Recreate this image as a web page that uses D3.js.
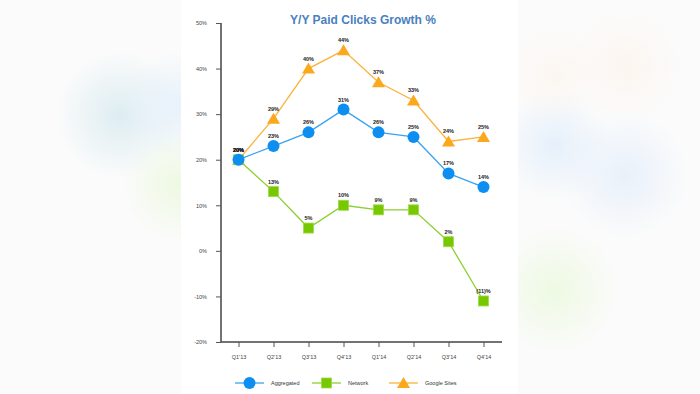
<!DOCTYPE html>
<html>
<head>
<meta charset="utf-8">
<script src="https://cdn.jsdelivr.net/npm/d3@7"></script>
<style>
  html, body { margin: 0; padding: 0; overflow: hidden; }
  body { width: 700px; height: 394px; font-family: "Liberation Sans", Arial, sans-serif; }
</style>
</head>
<body>
<svg id="chart" width="700" height="394"></svg>
<script>
// quarters and Y/Y growth (%) per series
const quarters = ["Q1'13", "Q2'13", "Q3'13", "Q4'13", "Q1'14", "Q2'14", "Q3'14", "Q4'14"];
const aggregated = [20, 23, 26, 31, 26, 25, 17, 14];
const network = [20, 13, 5, 10, 9, 9, 2, -11];
const googleSites = [20, 29, 40, 44, 37, 33, 24, 25];
const yTicks = [-20, -10, 0, 10, 20, 30, 40, 50];

const series = [
    { name: 'Aggregated', values: aggregated, line: '#39a3f2', fill: '#0d8ff2', shape: 'circle' },
    { name: 'Network', values: network, line: '#8ccf2e', fill: '#77c800', shape: 'square' },
    { name: 'Google Sites', values: googleSites, line: '#fbb23a', fill: '#fca81c', shape: 'triangle' }
];

const svg = d3.select('#chart');

// blurred backdrop behind the white panel
const defs = svg.append('defs');
const blobs = [
    { id: 'b1', x: 120, y: 115, r: 40, c: '#d6e9ef' },
    { id: 'b2', x: 180, y: 105, r: 35, c: '#e2effb' },
    { id: 'b3', x: 178, y: 185, r: 35, c: '#eaf8dc' },
    { id: 'b4', x: 555, y: 145, r: 35, c: '#e0edfb' },
    { id: 'b5', x: 625, y: 175, r: 40, c: '#e3eefb' },
    { id: 'b6', x: 555, y: 290, r: 40, c: '#eaf9dc' },
    { id: 'b7', x: 625, y: 65, r: 35, c: '#fcf4ec' },
    { id: 'b8', x: 555, y: 75, r: 30, c: '#fcf5ee' }
];
blobs.forEach(b => {
    const g = defs.append('radialGradient').attr('id', b.id);
    g.append('stop').attr('offset', '0%').attr('stop-color', b.c).attr('stop-opacity', 0.8);
    g.append('stop').attr('offset', '100%').attr('stop-color', b.c).attr('stop-opacity', 0);
});
svg.append('rect').attr('width', 700).attr('height', 394).attr('fill', '#fbfbfb');
svg.selectAll('.blob')
    .data(blobs)
    .enter()
    .append('circle')
    .attr('cx', d => d.x)
    .attr('cy', d => d.y)
    .attr('r', d => d.r * 1.6)
    .attr('fill', d => `url(#${d.id})`);

// white panel
svg.append('rect')
    .attr('x', 181).attr('y', 0)
    .attr('width', 337).attr('height', 394)
    .attr('fill', '#ffffff');

const x = d3.scalePoint().domain(quarters).range([221, 501]).padding(0.5);
const y = d3.scaleLinear().domain([-20, 50]).range([342, 23]);

// title
svg.append('text')
    .attr('x', 363)
    .attr('y', 24)
    .attr('text-anchor', 'middle')
    .attr('font-size', '12px')
    .attr('font-weight', 'bold')
    .attr('fill', '#4a7fc1')
    .text('Y/Y Paid Clicks Growth %');

// y axis
const yAxis = svg.append('g')
    .attr('transform', 'translate(221,0)')
    .call(d3.axisLeft(y).tickValues(yTicks).tickSize(5).tickPadding(9).tickFormat(d => d + '%'));
yAxis.select('.domain').attr('stroke', '#444').attr('stroke-width', 1.5).attr('d', 'M0,23V342');
yAxis.selectAll('.tick line').attr('stroke', '#555');
yAxis.selectAll('.tick text').attr('font-size', '5.5px').attr('fill', '#444').attr('font-family', '"Liberation Sans", Arial, sans-serif');

// x axis
const xAxis = svg.append('g')
    .attr('transform', 'translate(0,342)')
    .call(d3.axisBottom(x).tickSize(5).tickPadding(8));
xAxis.select('.domain').attr('stroke', '#444').attr('stroke-width', 1.5).attr('d', 'M221,0H502');
xAxis.selectAll('.tick line').attr('stroke', '#555');
xAxis.selectAll('.tick text').attr('font-size', '5.5px').attr('fill', '#444').attr('font-family', '"Liberation Sans", Arial, sans-serif');

function marker(g, shape, color) {
    if (shape === 'circle') {
        g.append('circle').attr('r', 6).attr('fill', color);
    } else if (shape === 'square') {
        g.append('rect').attr('x', -5).attr('y', -5).attr('width', 10).attr('height', 10)
            .attr('fill', color).attr('stroke', '#9bdc4a').attr('stroke-width', 0.8);
    } else {
        g.append('path').attr('d', 'M0,-6L6.5,5L-6.5,5Z').attr('fill', color);
    }
}

const line = d3.line().x((d, i) => x(quarters[i])).y(d => y(d));

// draw series from back to front: Google Sites, Network, Aggregated
[series[2], series[1], series[0]].forEach(s => {
    svg.append('path')
        .datum(s.values)
        .attr('d', line)
        .attr('fill', 'none')
        .attr('stroke', s.line)
        .attr('stroke-width', 1.3);

    const pts = svg.selectAll(null)
        .data(s.values)
        .enter()
        .append('g')
        .attr('transform', (d, i) => `translate(${x(quarters[i])},${y(d)})`);
    pts.each(function () { marker(d3.select(this), s.shape, s.fill); });
});

// value labels
series.forEach(s => {
    svg.selectAll(null)
        .data(s.values)
        .enter()
        .append('text')
        .attr('x', (d, i) => x(quarters[i]))
        .attr('y', d => y(d) - 8)
        .attr('text-anchor', 'middle')
        .attr('font-size', '5.5px')
        .attr('font-weight', 'bold')
        .attr('fill', '#222')
        .text(d => d < 0 ? `(${-d})%` : `${d}%`);
});

// legend
const legendX = [235, 312, 389];
series.forEach((s, i) => {
    const g = svg.append('g').attr('transform', `translate(${legendX[i]},383)`);
    g.append('line').attr('x1', 0).attr('x2', 29).attr('stroke', s.line).attr('stroke-width', 1.3);
    const m = g.append('g').attr('transform', 'translate(14.5,0)');
    marker(m, s.shape, s.fill);
    g.append('text')
        .attr('x', 36)
        .attr('y', 2)
        .attr('font-size', '5.5px')
        .attr('fill', '#333')
        .text(s.name);
});
</script>
</body>
</html>
